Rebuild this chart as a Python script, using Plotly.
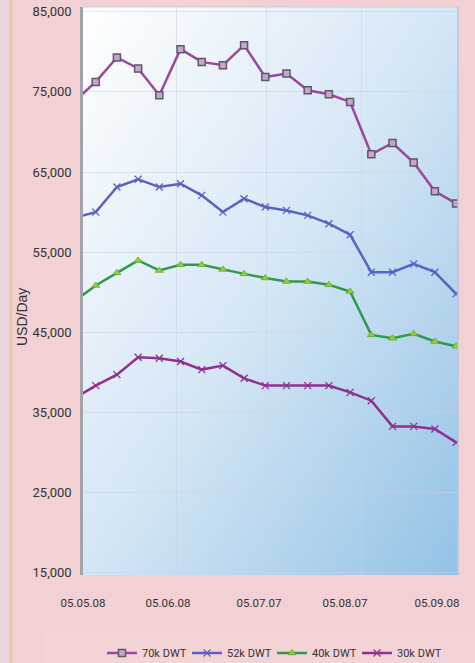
import base64
import plotly.graph_objects as go

# ---- data (weekly points; index 0 lies just left of the visible window) ----
week_index = list(range(19))
tick_positions = [0.4, 4.41, 8.7, 12.76, 17.1]
tick_labels = ["05.05.08", "05.06.08", "05.07.07", "05.08.07", "05.09.08"]
y_ticks = [15000, 25000, 35000, 45000, 55000, 65000, 75000, 85000]
y_tick_labels = ["15,000", "25,000", "35,000", "45,000", "55,000", "65,000", "75,000", "85,000"]
vgrid_positions = [4.82, 9.05, 13.55]

series_names = ["70k DWT", "52k DWT", "40k DWT", "30k DWT"]
v70 = [73830, 76250, 79300, 77925, 74590, 80340, 78750, 78340, 80840, 76850,
       77300, 75210, 74710, 73750, 67210, 68625, 66175, 62590, 61080]
v52 = [59300, 60000, 63125, 64090, 63125, 63540, 62090, 60000, 61670, 60625,
       60210, 59590, 58550, 57170, 52500, 52500, 53540, 52500, 49800]
v40 = [48890, 50840, 52420, 53960, 52710, 53420, 53420, 52840, 52290, 51780,
       51340, 51340, 50920, 50090, 44670, 44250, 44800, 43840, 43250]
v30 = [36740, 38340, 39710, 41880, 41750, 41340, 40340, 40840, 39250, 38340,
       38340, 38340, 38340, 37500, 36460, 33250, 33250, 32920, 31250]

NARROW = "Roboto, Liberation Sans, Arial, sans-serif"
TXT = "#333333"

fig = go.Figure()

fig.add_trace(go.Scatter(
    x=week_index, y=v70, name=series_names[0], mode="lines+markers",
    line=dict(color="#9a479d", width=2.5),
    marker=dict(symbol="square", size=7, color="#c9a2d6",
                line=dict(color="#5e5a62", width=1.5)),
))
fig.add_trace(go.Scatter(
    x=week_index, y=v52, name=series_names[1], mode="lines+markers",
    line=dict(color="#5a62c4", width=2.5),
    marker=dict(symbol="x-thin", size=7, color="#5a62c4",
                line=dict(color="#5a62c4", width=1.3)),
))
fig.add_trace(go.Scatter(
    x=week_index, y=v40, name=series_names[2], mode="lines+markers",
    line=dict(color="#2e9a4c", width=2.5),
    marker=dict(symbol="triangle-up", size=7, color="#9ccc2e",
                line=dict(color="#5aa83a", width=0.8)),
))
fig.add_trace(go.Scatter(
    x=week_index, y=v30, name=series_names[3], mode="lines+markers",
    line=dict(color="#8e3190", width=2.5),
    marker=dict(symbol="x-thin", size=7, color="#8e3190",
                line=dict(color="#8e3190", width=1.3)),
))

# gradient plot background as an inline SVG image
svg = ('<svg xmlns="http://www.w3.org/2000/svg" width="100" height="100" '
       'preserveAspectRatio="none" viewBox="0 0 100 100">'
       '<defs><linearGradient id="g" x1="0" y1="0" x2="1" y2="1">'
       '<stop offset="0" stop-color="#ffffff"/>'
       '<stop offset="0.5" stop-color="#d4e6f5"/>'
       '<stop offset="1" stop-color="#93c2e6"/>'
       '</linearGradient></defs>'
       '<rect x="0" y="0" width="100" height="100" fill="url(#g)"/></svg>')
svg_uri = "data:image/svg+xml;base64," + base64.b64encode(svg.encode()).decode()

L, R, T, B = 83, 17, 7, 88
W, H = 475, 663
pw = W - L - R
ph = H - T - B

def px_x(p):
    return (p - L) / pw

def px_y(p):
    return (H - B - p) / ph

fig.update_layout(
    width=W, height=H,
    margin=dict(l=L, r=R, t=T, b=B, pad=0, autoexpand=False),
    paper_bgcolor="#f2d0d4",
    plot_bgcolor="rgba(0,0,0,0)",
    images=[dict(source=svg_uri, xref="x domain", yref="y domain",
                 x=0, y=1, sizex=1, sizey=1, xanchor="left", yanchor="top",
                 sizing="stretch", layer="below")],
    xaxis=dict(range=[0.4, 18.09], tickmode="array", tickvals=tick_positions,
               ticktext=tick_labels, showgrid=False, zeroline=False,
               ticks="outside", ticklen=17, tickcolor="rgba(0,0,0,0)",
               tickfont=dict(family=NARROW, size=11.5, color=TXT),
               minor=dict(tickmode="array", tickvals=vgrid_positions, showgrid=True,
                          gridcolor="rgba(200,210,225,0.55)", gridwidth=1),
               showline=False, fixedrange=True),
    yaxis=dict(range=[14700, 85600], tickmode="array", tickvals=y_ticks,
               ticktext=y_tick_labels, showgrid=True,
               gridcolor="rgba(200,210,225,0.55)", gridwidth=1, zeroline=False,
               ticks="outside", ticklen=6, tickcolor="rgba(0,0,0,0)",
               tickfont=dict(family=NARROW, size=13, color=TXT),
               showline=True, linecolor="#a4a3ab", linewidth=2.5,
               fixedrange=True),
    showlegend=True,
    legend=dict(orientation="h", x=px_x(102), y=px_y(653), xanchor="left",
                yanchor="middle", bgcolor="rgba(0,0,0,0)",
                font=dict(family=NARROW, size=11, color=TXT),
                entrywidth=40, entrywidthmode="pixels", itemwidth=30),
    annotations=[dict(text="USD/Day", textangle=-90, x=px_x(22), y=px_y(317),
                      xref="paper", yref="paper", xanchor="center",
                      yanchor="middle", showarrow=False,
                      font=dict(family="Liberation Sans, Arial, sans-serif",
                                size=14, color=TXT))],
    shapes=[
        # left light strip and tan rule
        dict(type="rect", xref="paper", yref="paper", x0=px_x(0), x1=px_x(10),
             y0=px_y(H), y1=px_y(0), fillcolor="#e9d5db", line=dict(width=0),
             layer="below"),
        dict(type="line", xref="paper", yref="paper", x0=px_x(10.8), x1=px_x(10.8),
             y0=px_y(H), y1=px_y(0), line=dict(color="#e2c59e", width=2),
             layer="below"),
        # subtle legend band
        dict(type="rect", xref="paper", yref="paper", x0=px_x(45), x1=px_x(W),
             y0=px_y(H), y1=px_y(630), fillcolor="#f3d3d6", line=dict(width=0),
             layer="below"),
        # faint top and right border of the plot area
        dict(type="line", xref="x domain", yref="y domain", x0=0, x1=1, y0=1, y1=1,
             line=dict(color="#cbd0d8", width=1)),
        dict(type="line", xref="x domain", yref="y domain", x0=1, x1=1, y0=0, y1=1,
             line=dict(color="#b9c6d6", width=1.5)),
    ],
)

fig.write_html("out.html", config={"displayModeBar": False},
               post_script="document.body.style.margin='0';document.body.style.padding='0';")
